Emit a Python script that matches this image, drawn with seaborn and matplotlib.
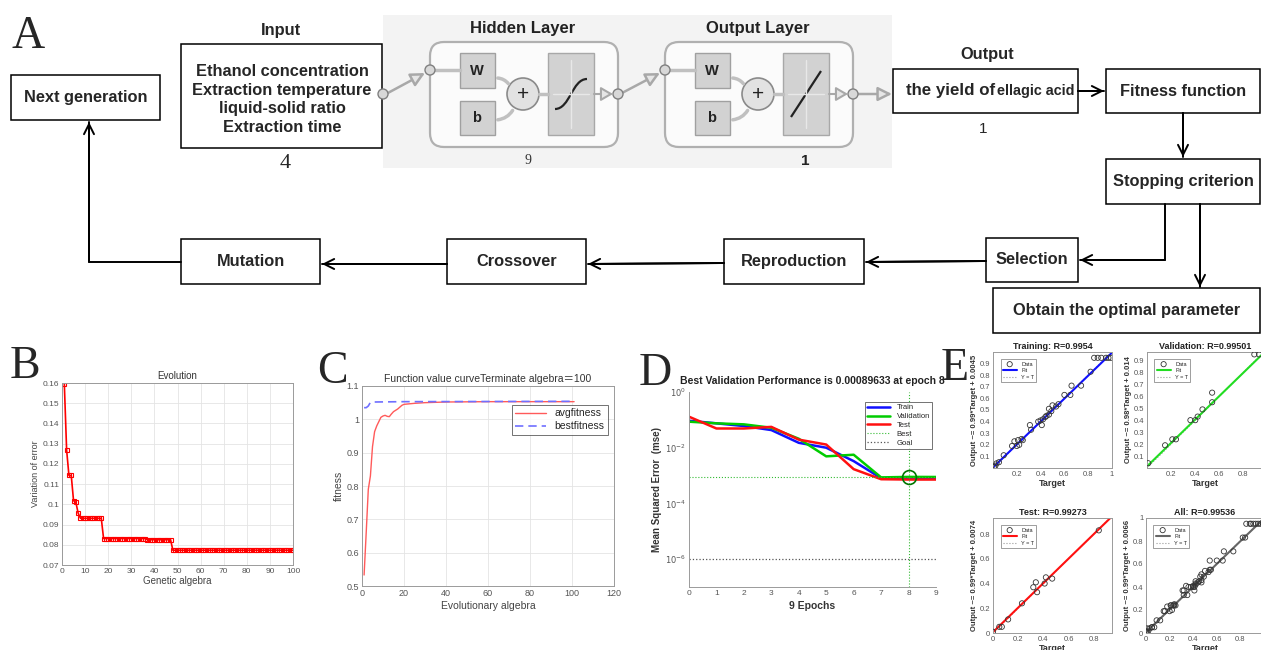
import numpy as np
import pandas as pd
import seaborn as sns
import matplotlib.pyplot as plt
from matplotlib.patches import Rectangle, FancyBboxPatch, FancyArrowPatch, Circle, PathPatch
from matplotlib.path import Path
from matplotlib.ticker import NullLocator

# ---------------- data ----------------
# B: error of best individual per generation, stored as plateaus (level, number of generations)
b_levels = [0.1597, 0.1269, 0.1143, 0.1018, 0.1010, 0.0956, 0.0931, 0.0831, 0.0825, 0.0773]
b_counts = [1, 1, 2, 1, 1, 1, 10, 19, 11, 53]

# C: fitness curves
c_gen_avg = [1, 2, 3, 4, 5, 6, 7, 8, 9, 10, 11, 12, 13, 14, 15, 17, 19, 20, 25, 30, 40, 60, 101]
c_avg = [0.533, 0.66, 0.79, 0.83, 0.918, 0.963, 0.98, 0.993, 1.006, 1.01, 1.012, 1.009,
         1.008, 1.016, 1.023, 1.031, 1.042, 1.045, 1.048, 1.05, 1.052, 1.053, 1.053]
c_gen_best = [1, 2, 3, 4, 5, 6, 20, 101]
c_best = [1.035, 1.035, 1.040, 1.051, 1.052, 1.052, 1.053, 1.054]

# D: training performance
d_epochs = [0, 1, 2, 3, 4, 5, 6, 7, 8, 9]
d_train = [0.093, 0.075, 0.060, 0.043, 0.015, 0.010, 0.0033, 0.00081, 0.0008, 0.0008]
d_val = [0.086, 0.075, 0.069, 0.052, 0.021, 0.0049, 0.0056, 0.00086, 0.00089633, 0.00089]
d_test = [0.13, 0.049, 0.049, 0.056, 0.0195, 0.013, 0.0017, 0.00074, 0.00072, 0.00072]
d_best_epoch = 8
d_best_val = 0.00089633
d_goal = 1e-6

# E: regression plots (target, output)
tr_target = [0.01, 0.02, 0.03, 0.05, 0.09, 0.16, 0.18, 0.20, 0.21, 0.22, 0.24, 0.25, 0.31, 0.32,
             0.38, 0.40, 0.41, 0.42, 0.44, 0.45, 0.47, 0.47, 0.49, 0.50, 0.53, 0.55, 0.60, 0.65,
             0.66, 0.74, 0.82, 0.85, 0.88, 0.91, 0.95, 0.97, 0.99]
tr_output = [0.01, 0.02, 0.04, 0.05, 0.11, 0.19, 0.23, 0.19, 0.24, 0.20, 0.25, 0.24, 0.37, 0.33,
             0.40, 0.41, 0.37, 0.42, 0.44, 0.45, 0.46, 0.51, 0.49, 0.54, 0.53, 0.55, 0.63, 0.63,
             0.71, 0.71, 0.83, 0.95, 0.95, 0.95, 0.95, 0.95, 0.95]
va_target = [0.01, 0.15, 0.21, 0.24, 0.36, 0.40, 0.42, 0.46, 0.54, 0.54, 0.89, 0.93]
va_output = [0.04, 0.19, 0.24, 0.24, 0.40, 0.40, 0.43, 0.49, 0.63, 0.55, 0.95, 0.95]
te_target = [0.00, 0.05, 0.07, 0.12, 0.23, 0.32, 0.34, 0.35, 0.41, 0.42, 0.47, 0.84]
te_output = [0.01, 0.05, 0.05, 0.11, 0.24, 0.37, 0.41, 0.33, 0.40, 0.45, 0.44, 0.83]

sns.set_theme(style='white')
plt.rcParams['font.family'] = ['Liberation Sans', 'Noto Sans CJK SC', 'DejaVu Sans']
plt.rcParams['axes.unicode_minus'] = False

W, H = 1261, 650
FS = 11.8  # flow chart text size
fig = plt.figure(figsize=(12.61, 6.5), dpi=100)
ax0 = fig.add_axes([0, 0, 1, 1])
ax0.set_xlim(0, W)
ax0.set_ylim(H, 0)
ax0.axis('off')


def px_axes(l, t, r, b):
    return fig.add_axes([l / W, 1 - b / H, (r - l) / W, (b - t) / H])


def box(x0, y0, x1, y1, text=None, size=FS):
    ax0.add_patch(Rectangle((x0, y0), x1 - x0, y1 - y0, fill=False, ec='black', lw=1.1))
    if text:
        ax0.text((x0 + x1) / 2, (y0 + y1) / 2, text, ha='center', va='center',
                 fontsize=size, fontweight='bold')


def flow(pts):
    ax0.plot([p[0] for p in pts], [p[1] for p in pts], color='black', lw=1.4)
    ax0.annotate('', xy=pts[-1], xytext=pts[-2],
                 arrowprops=dict(arrowstyle='->,head_length=0.6,head_width=0.3',
                                 color='black', lw=1.4, shrinkA=0, shrinkB=0))


# ---------------- panel labels ----------------
for lab, x, y in [('A', 28, 37), ('B', 25, 367), ('C', 332, 372), ('D', 655, 374), ('E', 955, 369)]:
    ax0.text(x, y, lab, ha='center', va='center', fontsize=33, family='Liberation Serif')

# ---------------- A: neural network picture ----------------
ax0.add_patch(Rectangle((383, 15), 509, 153, fc='#f3f3f3', ec='none'))


def layer(x0, title, act):
    ax0.add_patch(FancyBboxPatch((x0, 42), 188, 105, boxstyle='round,pad=0,rounding_size=14',
                                 fc='#fbfbfb', ec='#b0b0b0', lw=1.6))
    ax0.text(x0 + 93, 28, title, ha='center', va='center', fontsize=12,
             fontweight='bold', color='#222222')
    ax0.add_patch(Rectangle((x0 + 30, 53), 35, 35, fc='#d2d2d2', ec='#a0a0a0', lw=1))
    ax0.text(x0 + 47, 71, 'W', ha='center', va='center', fontsize=10.5, fontweight='bold', color='#222')
    ax0.add_patch(Rectangle((x0 + 30, 101), 35, 34, fc='#d2d2d2', ec='#a0a0a0', lw=1))
    ax0.text(x0 + 47, 118, 'b', ha='center', va='center', fontsize=10.5, fontweight='bold', color='#222')
    ax0.add_patch(Circle((x0 + 93, 94), 16, fc='#e2e2e2', ec='#8a8a8a', lw=1.2))
    ax0.text(x0 + 93, 94, '+', ha='center', va='center', fontsize=15, color='#222')
    ax0.add_patch(Rectangle((x0 + 118, 53), 46, 82, fc='#d2d2d2', ec='#a8a8a8', lw=1))
    ax0.plot([x0 + 141, x0 + 141], [60, 128], color='#e8e8e8', lw=1)
    ax0.plot([x0 + 123, x0 + 159], [94, 94], color='#e8e8e8', lw=1)
    if act == 'sig':
        verts = [(x0 + 125, 109), (x0 + 140, 109), (x0 + 142, 79), (x0 + 157, 79)]
    else:
        verts = [(x0 + 126, 117), (x0 + 141, 94), (x0 + 141, 94), (x0 + 156, 71)]
    ax0.add_patch(PathPatch(Path(verts, [Path.MOVETO, Path.CURVE4, Path.CURVE4, Path.CURVE4]),
                            fill=False, ec='#222222', lw=1.6))
    # wiring
    ax0.plot([x0 + 4, x0 + 30], [70, 70], color='#c0c0c0', lw=2.5)
    ax0.add_patch(FancyArrowPatch((x0 + 65, 78), (x0 + 80, 86), connectionstyle='arc3,rad=-0.3',
                                  arrowstyle='-', color='#c0c0c0', lw=2.5))
    ax0.add_patch(FancyArrowPatch((x0 + 65, 120), (x0 + 84, 108), connectionstyle='arc3,rad=0.3',
                                  arrowstyle='-', color='#c0c0c0', lw=2.5))
    ax0.plot([x0 + 109, x0 + 118], [94, 94], color='#c0c0c0', lw=2.5)
    ax0.annotate('', xy=(x0 + 183, 94), xytext=(x0 + 164, 94),
                 arrowprops=dict(arrowstyle='-|>,head_length=0.6,head_width=0.35',
                                 fc='#e6e6e6', ec='#a8a8a8', lw=1.5, shrinkA=0, shrinkB=0))
    ax0.add_patch(Circle((x0, 70), 5, fc='#d8d8d8', ec='#808080', lw=1, zorder=5))
    ax0.add_patch(Circle((x0 + 188, 94), 5, fc='#d8d8d8', ec='#808080', lw=1, zorder=5))


layer(430, 'Hidden Layer', 'sig')
layer(665, 'Output Layer', 'lin')
for (xa, ya), (xb, yb) in [((386, 94), (425, 73)), ((622, 93), (660, 73)), ((857, 94), (892, 94))]:
    ax0.annotate('', xy=(xb, yb), xytext=(xa, ya),
                 arrowprops=dict(arrowstyle='-|>,head_length=0.7,head_width=0.35',
                                 fc='#e6e6e6', ec='#a8a8a8', lw=1.8, shrinkA=0, shrinkB=0))
ax0.add_patch(Circle((383, 94), 5, fc='#d8d8d8', ec='#808080', lw=1, zorder=5))
ax0.text(528, 160, '9', ha='center', va='center', fontsize=10, family='Liberation Serif', color='#333')
ax0.text(805, 161, '1', ha='center', va='center', fontsize=11, fontweight='bold', color='#222')

# ---------------- A: flow chart ----------------
ax0.text(281, 30, 'Input', ha='center', va='center', fontsize=FS, fontweight='bold')
box(181, 44, 382, 148)
for i, s in enumerate(['Ethanol concentration', 'Extraction temperature',
                       'liquid-solid ratio', 'Extraction time']):
    ax0.text(282, 71 + 19 * i, s, ha='center', va='center', fontsize=FS, fontweight='bold')
ax0.text(285, 163, '4', ha='center', va='center', fontsize=16, family='Liberation Serif')

box(11, 75, 160, 120, 'Next generation')
ax0.text(987, 55, 'Output', ha='center', va='center', fontsize=FS, fontweight='bold')
box(893, 69, 1078, 113)
ax0.text(995, 91, 'the yield of', ha='right', va='center', fontsize=12.2, fontweight='bold')
ax0.text(997, 91, 'ellagic acid', ha='left', va='center', fontsize=10.4, fontweight='bold')
ax0.text(983, 129, '1', ha='center', va='center', fontsize=11)
box(1106, 69, 1260, 113, 'Fitness function')
box(1106, 159, 1260, 204, 'Stopping criterion')
box(986, 238, 1078, 282, 'Selection')
box(993, 288, 1260, 333, 'Obtain the optimal parameter')
box(724, 239, 864, 284, 'Reproduction')
box(447, 239, 586, 284, 'Crossover')
box(181, 239, 320, 284, 'Mutation')

flow([(1078, 91), (1104, 91)])
flow([(1183, 113), (1183, 157)])
flow([(1165, 204), (1165, 260), (1080, 260)])
flow([(1200, 204), (1200, 287)])
flow([(986, 261), (866, 262)])
flow([(724, 263), (588, 264)])
flow([(447, 264), (322, 264)])
flow([(181, 262), (89, 262), (89, 122)])


# ---------------- common axis style ----------------
def matlab_style(ax, size=6):
    ax.tick_params(direction='in', length=2, labelsize=size, colors='#555555', pad=2)
    for sp in ax.spines.values():
        sp.set_color('#9a9a9a')
        sp.set_linewidth(0.7)


# ---------------- B ----------------
b_err = np.repeat(b_levels, b_counts)
b_gen = np.arange(1, len(b_err) + 1)
axB = px_axes(62, 383, 293, 565)
sns.lineplot(x=b_gen, y=b_err, ax=axB, color='red', lw=1.2, marker='s', markersize=3,
             markerfacecolor='none', markeredgecolor='red', markeredgewidth=0.8)
axB.set_xlim(0, 100)
axB.set_ylim(0.07, 0.16)
axB.set_xticks(range(0, 101, 10))
yt = [0.07, 0.08, 0.09, 0.10, 0.11, 0.12, 0.13, 0.14, 0.15, 0.16]
axB.set_yticks(yt)
axB.set_yticklabels([f'{v:g}' for v in yt])
axB.grid(True, color='#e4e4e4', lw=0.6)
matlab_style(axB, 6)
axB.set_title('Evolution', fontsize=7, color='#333', pad=3)
axB.set_xlabel('Genetic algebra', fontsize=7, color='#444', labelpad=1)
axB.set_ylabel('Variation of error', fontsize=6.5, color='#444', labelpad=2)

# ---------------- C ----------------
axC = px_axes(362, 386, 614, 586)
sns.lineplot(x=c_gen_avg, y=c_avg, ax=axC, color='#ff5a5a', lw=1.0, label='avgfitness')
sns.lineplot(x=c_gen_best, y=c_best, ax=axC, color='#6f6fff', lw=1.2, label='bestfitness')
axC.lines[-1].set_linestyle((0, (5, 3)))
axC.set_xlim(0, 120)
axC.set_ylim(0.5, 1.1)
axC.set_xticks(range(0, 121, 20))
yc = [0.5, 0.6, 0.7, 0.8, 0.9, 1.0, 1.1]
axC.set_yticks(yc)
axC.set_yticklabels([f'{v:g}' for v in yc])
axC.grid(True, color='#e4e4e4', lw=0.6)
matlab_style(axC, 6.5)
axC.set_title('Function value curveTerminate algebra＝100', fontsize=7.5, color='#333', pad=3)
axC.set_xlabel('Evolutionary algebra', fontsize=7.5, color='#444', labelpad=2)
axC.set_ylabel('fitness', fontsize=7.5, color='#444', labelpad=2)
lgC = axC.legend(loc='upper right', fontsize=7.5, frameon=True, fancybox=False,
                 borderpad=0.3, handlelength=3, labelspacing=0.3, bbox_to_anchor=(0.995, 0.93))
lgC.get_frame().set_edgecolor('#333')
lgC.get_frame().set_linewidth(0.6)

# ---------------- D ----------------
axD = px_axes(689, 392, 936, 587)
axD.set_yscale('log')
perf = pd.DataFrame({'epoch': d_epochs * 3,
                     'mse': d_train + d_val + d_test,
                     'set': ['Train'] * 10 + ['Validation'] * 10 + ['Test'] * 10})
sns.lineplot(data=perf, x='epoch', y='mse', hue='set', ax=axD, lw=1.8,
             palette={'Train': '#1010ff', 'Validation': '#00cc00', 'Test': '#ff1010'})
axD.axhline(d_best_val, color='#33bb33', ls=':', lw=0.8, label='Best')
axD.axvline(d_best_epoch, color='#33bb33', ls=':', lw=0.8)
axD.axhline(d_goal, color='#555555', ls=':', lw=0.9, label='Goal')
axD.plot(d_best_epoch, d_best_val, 'o', mfc='none', mec='#007700', ms=10, mew=1.2)
axD.set_xlim(0, 9)
axD.set_ylim(1e-7, 1)
axD.set_xticks(range(10))
axD.set_yticks([1, 1e-2, 1e-4, 1e-6])
axD.set_yticklabels(['$10^{0}$', '$10^{-2}$', '$10^{-4}$', '$10^{-6}$'])
axD.yaxis.set_minor_locator(NullLocator())
matlab_style(axD, 6)
axD.spines['top'].set_visible(False)
axD.spines['right'].set_visible(False)
axD.set_title('Best Validation Performance is 0.00089633 at epoch 8', fontsize=7.5,
              fontweight='bold', color='#222', pad=6)
axD.set_xlabel('9 Epochs', fontsize=7.5, fontweight='bold', color='#333', labelpad=3)
axD.set_ylabel('Mean Squared Error  (mse)', fontsize=7, fontweight='bold', color='#333', labelpad=2)
hD, lD = axD.get_legend_handles_labels()
lgD = axD.legend(hD, lD, loc='upper right', fontsize=5.5, frameon=True, fancybox=False,
                 borderpad=0.3, handlelength=3, labelspacing=0.2, bbox_to_anchor=(1.0, 0.97))
lgD.get_frame().set_edgecolor('#333')
lgD.get_frame().set_linewidth(0.6)


# ---------------- E ----------------
def regression(rect, tx, ty, color, title, slope, icpt, xlim, ylim, ticks_x, ticks_y):
    ax = px_axes(*rect)
    fx = np.array(xlim)
    ax.plot(fx, fx, ':', color='#999999', lw=0.8, label='Y = T', zorder=1)
    sns.lineplot(x=fx, y=slope * fx + icpt, ax=ax, color=color, lw=1.5, label='Fit')
    sns.scatterplot(x=tx, y=ty, ax=ax, marker='o', s=14, facecolor='none', edgecolor='#333333',
                    linewidth=0.6, label='Data', zorder=3)
    ax.set_xlim(*xlim)
    ax.set_ylim(*ylim)
    ax.set_xticks(ticks_x)
    ax.set_xticklabels([f'{v:g}' for v in ticks_x])
    ax.set_yticks(ticks_y)
    ax.set_yticklabels([f'{v:g}' for v in ticks_y])
    matlab_style(ax, 5.5)
    ax.set_title(title, fontsize=6.5, fontweight='bold', color='#222', pad=2)
    ax.set_xlabel('Target', fontsize=6.5, fontweight='bold', color='#333', labelpad=1)
    ax.set_ylabel(f'Output ~= {slope:g}*Target + {icpt:g}', fontsize=5.5, fontweight='bold',
                  color='#333', labelpad=1)
    h, l = ax.get_legend_handles_labels()
    order = [l.index('Data'), l.index('Fit'), l.index('Y = T')]
    lg = ax.legend([h[i] for i in order], [l[i] for i in order], loc='upper left', fontsize=4,
                   frameon=True, fancybox=False, borderpad=0.4, handlelength=2.5,
                   labelspacing=0.3, bbox_to_anchor=(0.04, 0.96))
    lg.get_frame().set_edgecolor('#555')
    lg.get_frame().set_linewidth(0.5)
    return ax


all_target = tr_target + va_target + te_target
all_output = tr_output + va_output + te_output
t1 = [0.2, 0.4, 0.6, 0.8, 1]
t9 = [0.1, 0.2, 0.3, 0.4, 0.5, 0.6, 0.7, 0.8, 0.9]
t0 = [0, 0.2, 0.4, 0.6, 0.8]
regression((993, 352, 1112, 468), tr_target, tr_output, '#1010ff', 'Training: R=0.9954',
           0.99, 0.0045, (0.0, 1.0), (0.0, 1.0), t1, t9)
regression((1147, 352, 1264, 468), va_target, va_output, '#22dd22', 'Validation: R=0.99501',
           0.98, 0.014, (0.0, 0.97), (0.0, 0.97), [0.2, 0.4, 0.6, 0.8], t9)
regression((993, 518, 1112, 633), te_target, te_output, '#ff1010', 'Test: R=0.99273',
           0.99, 0.0074, (0.0, 0.945), (0.0, 0.93), t0, t0)
regression((1146, 518, 1264, 633), all_target, all_output, '#666666', 'All: R=0.99536',
           0.99, 0.0066, (0.0, 1.0), (0.0, 1.0), t0 + [1], t0 + [1])

fig.savefig('out.png', dpi=100)
